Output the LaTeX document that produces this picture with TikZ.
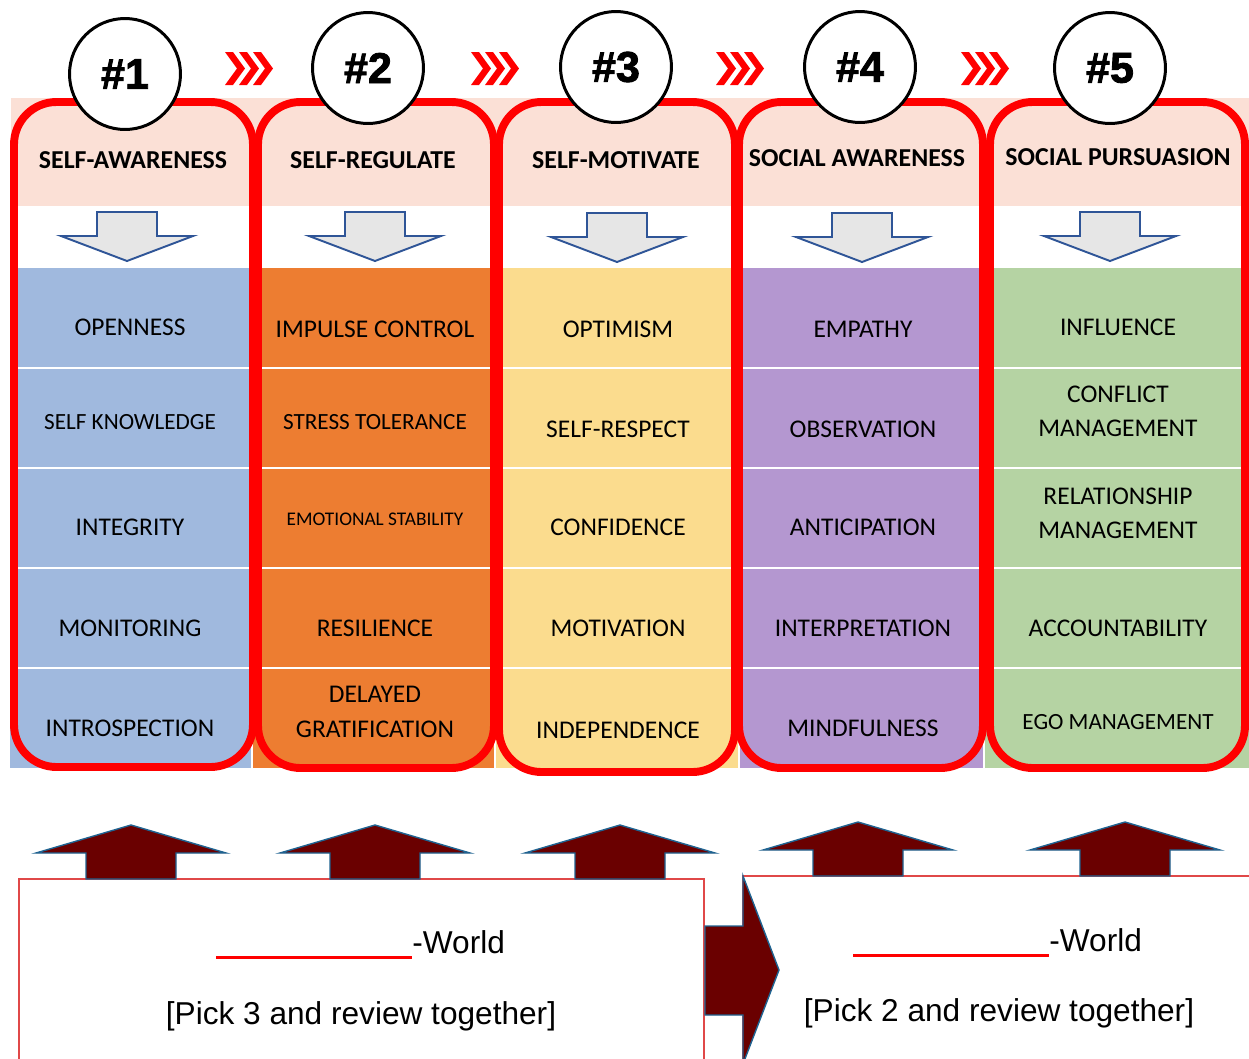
\documentclass[tikz,border=0pt]{standalone}
\usepackage{fontspec}
\setmainfont{Liberation Sans}
\newfontfamily\calib{Carlito}
\newfontfamily\heavy[FakeBold=2]{Liberation Sans}

\definecolor{hdrpink}{HTML}{FBE0D6}
\definecolor{cellblue}{HTML}{A0B9DE}
\definecolor{cellorange}{HTML}{ED7D31}
\definecolor{cellyellow}{HTML}{FBDC8E}
\definecolor{cellpurple}{HTML}{B497D0}
\definecolor{cellgreen}{HTML}{B5D3A3}
\definecolor{arrowgray}{HTML}{E6E6E6}
\definecolor{arrowblue}{HTML}{2F5597}
\definecolor{darkmaroon}{HTML}{6A0000}
\definecolor{edgeblue}{HTML}{1F6391}
\definecolor{boxred}{HTML}{E04848}

\begin{document}
\begin{tikzpicture}[x=0.02cm, y=-0.02cm,
    stage/.style={draw=red, line width=4.5pt, rounded corners=0.85cm},
    badge/.style={circle, draw=black, fill=white, line width=1.7pt,
      minimum size=2.22cm, inner sep=0pt, font=\heavy\bfseries\fontsize{24.5}{24}\selectfont},
    title/.style={font=\calib\bfseries\fontsize{14.7}{17}\selectfont},
    item/.style={font=\calib\fontsize{14.5}{19.5}\selectfont, align=center},
    smallitem/.style={font=\calib\fontsize{13.2}{16}\selectfont},
    tinyitem/.style={font=\calib\fontsize{11}{13}\selectfont},
    note/.style={font=\fontsize{18}{22}\selectfont, inner sep=0pt},
    blank/.style={draw=red, line width=1.7pt},
    pics/down/.style={code={
      \draw[fill=arrowgray, draw=arrowblue, line width=1.1pt, line join=miter]
        (-30,0) -- (30,0) -- (30,24) -- (66,24) -- (0,49) -- (-66,24) -- (-30,24) -- cycle;}},
    pics/up/.style={code={
      \draw[fill=darkmaroon, draw=edgeblue, line width=0.8pt, line join=miter]
        (-45,0) -- (45,0) -- (45,-26) -- (95,-26) -- (0,-54) -- (-95,-26) -- (-45,-26) -- cycle;}},
    pics/chevrons/.style={code={
      \fill[red] (0,0) -- (8,0) -- (20,16.5) -- (8,33) -- (0,33) -- (12,16.5) -- cycle;
      \fill[red] (14,0) -- (22,0) -- (34,16.5) -- (22,33) -- (14,33) -- (26,16.5) -- cycle;
      \fill[red] (28,0) -- (36,0) -- (48,16.5) -- (36,33) -- (28,33) -- (40,16.5) -- cycle;}}]

  \useasboundingbox (0,0) rectangle (1249,1059);

  % column backgrounds
  \fill[hdrpink] (11,98) rectangle (1249,206);
  \fill[cellblue] (10,268) rectangle (251,768);
  \fill[cellorange] (253,268) rectangle (494,768);
  \fill[cellyellow] (496,268) rectangle (738,768);
  \fill[cellpurple] (740,268) rectangle (983,768);
  \fill[cellgreen] (985,268) rectangle (1249,768);
  \draw[white, line width=1.2pt] (10,368) -- (1249,368);
  \draw[white, line width=1.2pt] (10,468) -- (1249,468);
  \draw[white, line width=1.2pt] (10,568) -- (1249,568);
  \draw[white, line width=1.2pt] (10,668) -- (1249,668);

  % red frames
  \draw[stage] (14,102) rectangle (253,767);
  \draw[stage] (258,102) rectangle (494,768);
  \draw[stage] (499,102) rectangle (735,772);
  \draw[stage] (739,102) rectangle (983,768);
  \draw[stage] (990,102) rectangle (1245,768);

  % numbered steps
  \node[badge] (s1) at (125,74) {\#1};
  \node[badge] (s2) at (368,68) {\#2};
  \node[badge] (s3) at (616,67) {\#3};
  \node[badge] (s4) at (860,67) {\#4};
  \node[badge] (s5) at (1110,68) {\#5};

  \pic at (225,52) {chevrons};
  \pic at (471,52) {chevrons};
  \pic at (716,52) {chevrons};
  \pic at (961,52) {chevrons};

  % headings
  \begin{scope}[every node/.style={title}]
    \node (h1) at (133,160) {SELF-AWARENESS};
    \node (h2) at (373,160) {SELF-REGULATE};
    \node (h3) at (616,160) {SELF-MOTIVATE};
    \node (h4) at (857,158) {SOCIAL AWARENESS};
    \node (h5) at (1118,157) {SOCIAL PURSUASION};
  \end{scope}

  \pic at (127,212) {down};
  \pic at (375,212) {down};
  \pic at (617,213) {down};
  \pic at (862,213) {down};
  \pic at (1110,212) {down};

  % skills
  \begin{scope}[every node/.style={item}]
    \node (open)  at (130,327) {OPENNESS};
    \node[smallitem] (know) at (130,422) {SELF KNOWLEDGE};
    \node (integ) at (130,527) {INTEGRITY};
    \node (monit) at (130,628) {MONITORING};
    \node (intro) at (130,728) {INTROSPECTION};

    \node (impul) at (375,329) {IMPULSE CONTROL};
    \node[smallitem] (stres) at (375,422) {STRESS TOLERANCE};
    \node[tinyitem] (emot) at (375,519) {EMOTIONAL STABILITY};
    \node (resil) at (375,628) {RESILIENCE};
    \node (delay) at (375,712) {DELAYED\\GRATIFICATION};

    \node (optim) at (618,329) {OPTIMISM};
    \node (respe) at (618,429) {SELF-RESPECT};
    \node (confi) at (618,527) {CONFIDENCE};
    \node (motiv) at (618,628) {MOTIVATION};
    \node (indep) at (618,730) {INDEPENDENCE};

    \node (empat) at (863,329) {EMPATHY};
    \node (obser) at (863,429) {OBSERVATION};
    \node (antic) at (863,527) {ANTICIPATION};
    \node (inter) at (863,628) {INTERPRETATION};
    \node (mindf) at (863,728) {MINDFULNESS};

    \node (influ) at (1118,327) {INFLUENCE};
    \node (confl) at (1118,411) {CONFLICT\\MANAGEMENT};
    \node (relat) at (1118,513) {RELATIONSHIP\\MANAGEMENT};
    \node (accou) at (1118,628) {ACCOUNTABILITY};
    \node[smallitem] (egom) at (1118,722) {EGO MANAGEMENT};
  \end{scope}

  % review boxes
  \draw[boxred, line width=0.8pt] (19,1062) -- (19,879) -- (704,879) -- (704,1062);
  \draw[boxred, line width=0.8pt] (743,1062) -- (743,876) -- (1255,876);

  \pic at (131,879) {up};
  \pic at (375,879) {up};
  \pic at (620,879) {up};
  \pic at (858,876) {up};
  \pic at (1125,876) {up};

  \draw[fill=darkmaroon, draw=edgeblue, line width=0.8pt, line join=miter]
    (705,926) -- (743,926) -- (743,876) -- (779,970) -- (743,1064) -- (743,1015) -- (705,1015) -- cycle;

  \node[note, anchor=west] (w1) at (412,942) {-World};
  \coordinate (b1) at (216,957);
  \draw[blank] (b1) -- (b1 -| w1.west);
  \node[note] (p1) at (361,1016) {[Pick 3 and review together]};

  \node[note, anchor=west] (w2) at (1049,940) {-World};
  \coordinate (b2) at (853,955);
  \draw[blank] (b2) -- (b2 -| w2.west);
  \node[note] (p2) at (999,1013) {[Pick 2 and review together]};

\end{tikzpicture}
\end{document}
